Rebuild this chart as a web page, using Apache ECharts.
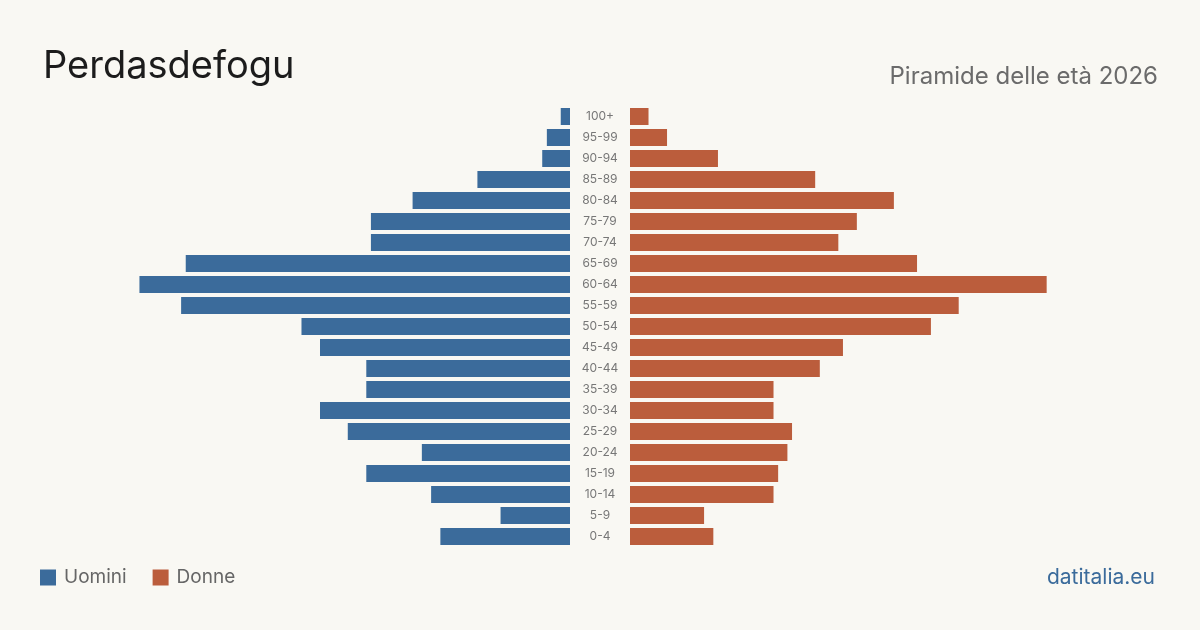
<!DOCTYPE html>
<html>
<head>
<meta charset="utf-8">
<script src="https://cdn.jsdelivr.net/npm/echarts@6/dist/echarts.min.js"></script>
<style>
  html, body { margin: 0; padding: 0; background: #f9f8f3; }
  #pyramid { width: 1200px; height: 630px; }
</style>
</head>
<body>
<div id="pyramid"></div>
<script>
// age classes, bottom to top
var ageClasses = ['0-4', '5-9', '10-14', '15-19', '20-24', '25-29', '30-34', '35-39', '40-44', '45-49',
  '50-54', '55-59', '60-64', '65-69', '70-74', '75-79', '80-84', '85-89', '90-94', '95-99', '100+'];
var men = [28, 15, 30, 44, 32, 48, 54, 44, 44, 54, 58, 84, 93, 83, 43, 43, 34, 20, 6, 5, 2];
var women = [18, 16, 31, 32, 34, 35, 31, 31, 41, 46, 65, 71, 90, 62, 45, 49, 57, 40, 19, 8, 4];

initPyramid();
function initPyramid(){
    var dom = document.getElementById('pyramid');
    var myChart = echarts.init(dom, null, { renderer: 'canvas' });
    var font = 'Inter, "Noto Sans", sans-serif';
    var xMax = 108;

    var option = {
        backgroundColor: '#f9f8f3',
        textStyle: { fontFamily: font },
        title: [
          {
            text: 'Perdasdefogu',
            left: 38, top: 43,
            textStyle: { fontFamily: font, fontSize: 38, fontWeight: 'normal', color: '#1c1c1c' }
          },
          {
            text: 'Piramide delle età 2026',
            right: 37, top: 60,
            textStyle: { fontFamily: font, fontSize: 24, fontWeight: 'normal', color: '#6b6b6b' }
          },
          {
            text: 'datitalia.eu',
            right: 40, top: 562,
            textStyle: { fontFamily: font, fontSize: 21, fontWeight: 'normal', color: '#3b6b9b' }
          }
        ],
        legend: {
          left: 40, top: 568,
          padding: 0,
          icon: 'rect',
          itemWidth: 16, itemHeight: 16,
          itemGap: 26,
          textStyle: { fontFamily: font, fontSize: 19, color: '#666', padding: [0, 0, 0, 3] },
          data: ['Uomini', 'Donne']
        },
        grid: [
          { left: 70, width: 500, top: 106, height: 441 },
          { left: 630, width: 500, top: 106, height: 441 }
        ],
        xAxis: [
          { gridIndex: 0, type: 'value', min: 0, max: xMax, inverse: true, show: false },
          { gridIndex: 1, type: 'value', min: 0, max: xMax, show: false }
        ],
        yAxis: [
          { gridIndex: 0, type: 'category', data: ageClasses, show: false },
          {
            gridIndex: 1, type: 'category', data: ageClasses, position: 'left',
            axisLine: { show: false }, axisTick: { show: false },
            axisLabel: { margin: 30, align: 'center', fontSize: 12, color: '#777', fontFamily: font }
          }
        ],
        series: [
          {
            name: 'Uomini', type: 'bar', xAxisIndex: 0, yAxisIndex: 0,
            data: men, barWidth: 17, color: '#3b6b9b', silent: true
          },
          {
            name: 'Donne', type: 'bar', xAxisIndex: 1, yAxisIndex: 1,
            data: women, barWidth: 17, color: '#bb5d3c', silent: true
          }
        ]
    };

    myChart.setOption(option);
    window.addEventListener('resize', myChart.resize);
}
</script>
</body>
</html>
